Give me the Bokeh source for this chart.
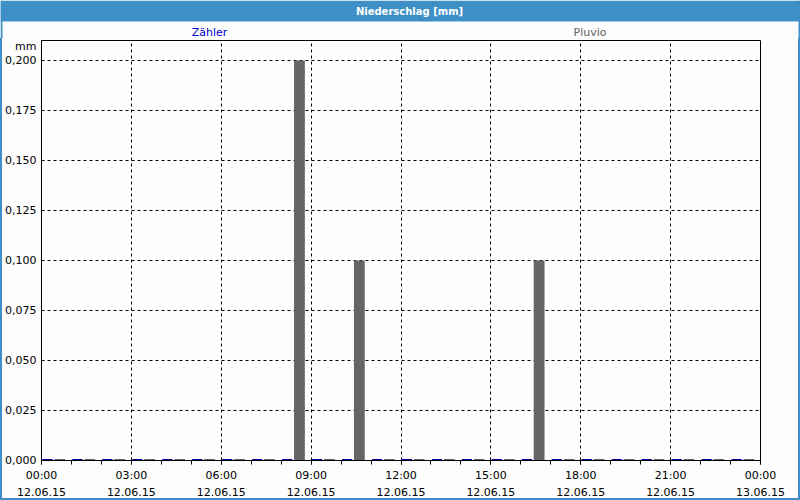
from bokeh.plotting import figure
from bokeh.models import FixedTicker, Range1d, ColumnDataSource, LinearAxis
from bokeh.layouts import column
from bokeh.embed import file_html
from bokeh.resources import INLINE
from bokeh.core.properties import value

# ---------------- data ----------------
hours = [0, 1, 2, 3, 4, 5, 6, 7, 8, 9, 10, 11, 12, 13, 14, 15, 16, 17, 18, 19, 20, 21, 22, 23]
zaehler = [0.0, 0.0, 0.0, 0.0, 0.0, 0.0, 0.0, 0.0, 0.0, 0.0, 0.0, 0.0,
           0.0, 0.0, 0.0, 0.0, 0.0, 0.0, 0.0, 0.0, 0.0, 0.0, 0.0, 0.0]
pluvio = [0.0, 0.0, 0.0, 0.0, 0.0, 0.0, 0.0, 0.0, 0.2, 0.0, 0.1, 0.0,
          0.0, 0.0, 0.0, 0.0, 0.1, 0.0, 0.0, 0.0, 0.0, 0.0, 0.0, 0.0]
x_ticks = [0, 3, 6, 9, 12, 15, 18, 21, 24]
x_time_labels = ["00:00", "03:00", "06:00", "09:00", "12:00", "15:00", "18:00", "21:00", "00:00"]
x_date_labels = ["12.06.15", "12.06.15", "12.06.15", "12.06.15", "12.06.15",
                 "12.06.15", "12.06.15", "12.06.15", "13.06.15"]
y_ticks = [0.0, 0.025, 0.05, 0.075, 0.1, 0.125, 0.15, 0.175, 0.2]
y_tick_labels = ["0,000", "0,025", "0,050", "0,075", "0,100", "0,125", "0,150", "0,175", "0,200"]
title_text = "Niederschlag [mm]"
series_names = ["Zähler", "Pluvio"]
unit_text = "mm"

# ---------------- style ----------------
BLUE = "#3D8FC6"
BG = "#FCFDFC"
FONT = "DejaVu Sans"
BAR_BLUE = "#00009E"
BAR_GRAY = "#666466"
MIN_VIS = 0.0008  # smallest drawn bar height (zero values still shown as a thin bar)
Y_MAX = 0.21
HDR_H = 38
FRAME_H = 420
MAIN_H = 500 - HDR_H - 2

# ---------------- header (title bar + series names) ----------------
hdr = figure(width=800, height=HDR_H, x_range=Range1d(0, 800), y_range=Range1d(HDR_H, 0),
             toolbar_location=None, output_backend="svg",
             x_axis_location=None, y_axis_location=None, min_border=0)
hdr.frame_align = False
hdr.grid.visible = False
hdr.outline_line_color = None
hdr.background_fill_color = BG
hdr.border_fill_color = BG
hdr.quad(left=[0, 0, 798], right=[800, 2, 800], top=[0, 0, 0], bottom=[21, HDR_H, HDR_H],
         fill_color=BLUE, line_color=None)
hdr.text(x=[409], y=[10.5], text=[title_text], text_align="center", text_baseline="middle",
         text_font=value(FONT), text_font_size="10px", text_font_style="bold",
         text_color="white")
hdr.text(x=[209, 589.5], y=[32, 32], text=series_names, text_align="center",
         text_baseline="middle", text_font=value(FONT), text_font_size="11px",
         text_color=["#0000C8", "#646464"])

# ---------------- main chart ----------------
p = figure(width=796, height=MAIN_H, x_range=Range1d(0, 24), y_range=Range1d(0, Y_MAX),
           toolbar_location=None, output_backend="svg",
           min_border_left=39, min_border_right=38, min_border_top=2,
           min_border_bottom=MAIN_H - 2 - FRAME_H)
p.frame_align = False
p.margin = (0, 2, 2, 2)
p.styles = {"background-color": BG}
p.background_fill_color = BG
p.border_fill_color = BG
p.outline_line_color = "black"
p.outline_line_width = 1

src_z = ColumnDataSource(dict(x=[h + 0.2 for h in hours], top=[max(v, MIN_VIS) for v in zaehler]))
src_p = ColumnDataSource(dict(x=[h + 0.61 for h in hours], top=[max(v, MIN_VIS) for v in pluvio]))
p.vbar(x="x", top="top", bottom=0, width=0.34, source=src_z, fill_color=BAR_BLUE, line_color=None)
p.vbar(x="x", top="top", bottom=0, width=0.36, source=src_p, fill_color=BAR_GRAY, line_color=None)

# x axis: time row
xa = p.xaxis[0]
xa.ticker = FixedTicker(ticks=x_ticks, minor_ticks=hours + [24])
xa.major_label_overrides = {t: l for t, l in zip(x_ticks, x_time_labels)}
xa.major_tick_out = 4
xa.major_tick_in = 0
xa.minor_tick_out = 4
xa.minor_tick_in = 0
xa.major_label_standoff = 4
xa.major_label_text_font = FONT
xa.major_label_text_font_size = "11px"
xa.major_label_text_color = "black"
xa.axis_line_color = "black"
xa.major_tick_line_color = "black"
xa.minor_tick_line_color = "black"

# x axis: date row
xd = LinearAxis(ticker=FixedTicker(ticks=x_ticks, minor_ticks=[]),
                major_label_overrides={t: l for t, l in zip(x_ticks, x_date_labels)},
                major_tick_out=0, major_tick_in=0, minor_tick_out=0, minor_tick_in=0,
                axis_line_color=None, major_tick_line_color=None, minor_tick_line_color=None,
                major_label_standoff=3, major_label_text_font=FONT,
                major_label_text_font_size="11px", major_label_text_color="black")
p.add_layout(xd, "below")

# y axis (unit label placed just under the frame top)
unit_pos = Y_MAX - 5.5 * Y_MAX / FRAME_H
ya = p.yaxis[0]
ya.ticker = FixedTicker(ticks=y_ticks + [unit_pos], minor_ticks=[])
overrides = {t: l for t, l in zip(y_ticks, y_tick_labels)}
overrides[unit_pos] = unit_text
ya.major_label_overrides = overrides
ya.major_tick_out = 0
ya.major_tick_in = 0
ya.minor_tick_out = 0
ya.minor_tick_in = 0
ya.major_label_standoff = 5
ya.major_label_text_font = FONT
ya.major_label_text_font_size = "11px"
ya.major_label_text_color = "black"
ya.axis_line_color = "black"

# grid
p.xgrid.ticker = FixedTicker(ticks=x_ticks[1:-1])
p.ygrid.ticker = FixedTicker(ticks=y_ticks[1:])
for g in (p.xgrid[0], p.ygrid[0]):
    g.grid_line_color = "black"
    g.grid_line_dash = "3 3"
    g.grid_line_width = 1

body = column(p, styles={"background-color": BLUE}, spacing=0)
layout = column(hdr, body, styles={"background-color": BG}, spacing=0)

open("out.html", "w").write(file_html(layout, INLINE))
